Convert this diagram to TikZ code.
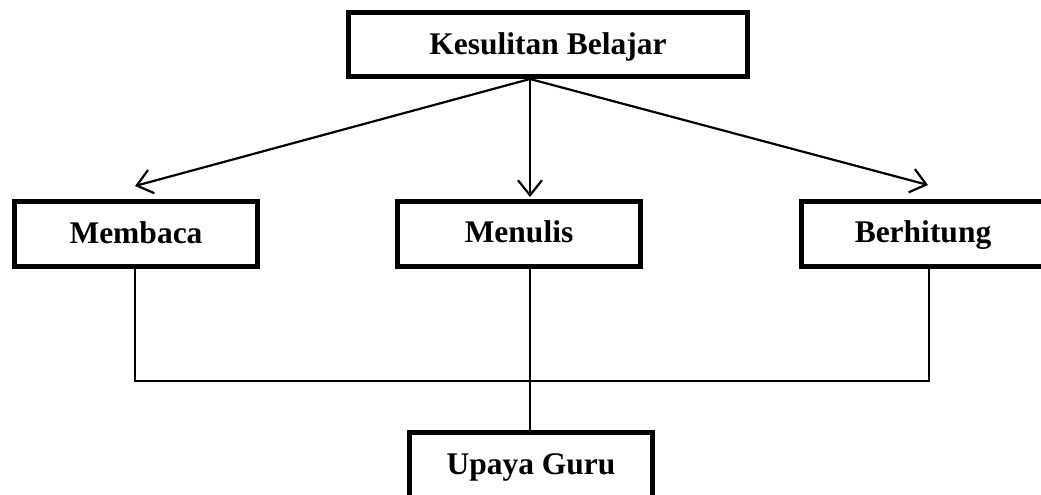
\documentclass[tikz,border=0pt]{standalone}
\usepackage{fontspec}
\setmainfont{Liberation Serif}
\usetikzlibrary{arrows.meta}
\begin{document}
\begin{tikzpicture}[x=1pt,y=1pt,
  box/.style={draw=black, line width=5pt, minimum width=243pt, minimum height=65pt,
    inner sep=0pt, text height=24pt, text depth=6pt,
    font=\fontsize{31.5}{36}\selectfont\bfseries},
  topbox/.style={box, minimum width=399pt, minimum height=64pt, text height=25pt, text depth=4pt},
  arr/.style={line width=2.2pt, -{Straight Barb[length=15pt,width=24pt,line width=2.2pt]}},
  conn/.style={line width=2pt}]
\useasboundingbox (0,0) rectangle (1041,-495);
\node[topbox] (kb) at (548,-44.5) {Kesulitan Belajar};
\node[box] (mb) at (136,-234) {Membaca};
\node[box] (mn) at (519,-233.5) {Menulis};
\node[box] (bh) at (923,-233.5) {Berhitung};
\node[box] (ug) at (531,-465) {Upaya Guru};
\coordinate (src) at (530,-79);
\coordinate (tl) at (135,-186);
\coordinate (tc) at (530,-197);
\coordinate (tr) at (928,-185);
\coordinate (xl) at (135,-381);
\coordinate (xc) at (530,-381);
\coordinate (xr) at (929,-381);
\draw[arr] (src) -- (tl);
\draw[arr] (src) -- (tc);
\draw[arr] (src) -- (tr);
\draw[conn] (mb.south -| xl) -- (xl) -- (xr) -- (bh.south -| xr);
\draw[conn] (mn.south -| xc) -- (ug.north -| xc);
\end{tikzpicture}
\end{document}
